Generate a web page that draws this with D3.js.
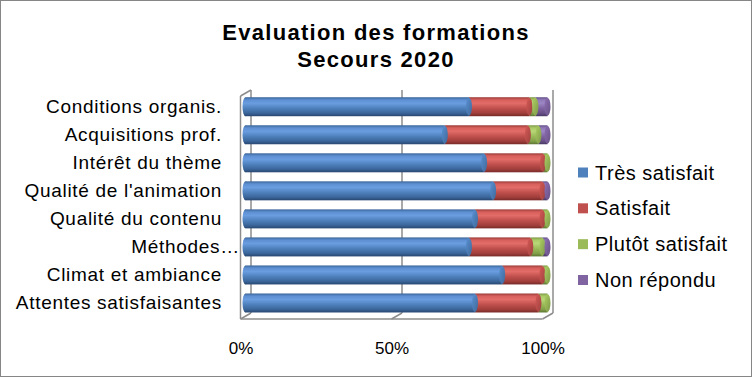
<!DOCTYPE html>
<html>
<head>
<meta charset="utf-8">
<script src="https://cdn.jsdelivr.net/npm/d3@7"></script>
<style>
  html, body { margin: 0; padding: 0; background: #fff; }
  svg { display: block; font-family: "Liberation Sans", Arial, sans-serif; }
</style>
</head>
<body>
<svg id="chart" width="752" height="377"></svg>
<script>
// ---- Data ----
const titleLines = ["Evaluation des formations", "Secours 2020"];
const categories = ["Conditions organis.", "Acquisitions prof.", "Intérêt du thème", "Qualité de l'animation",
                    "Qualité du contenu", "Méthodes…", "Climat et ambiance", "Attentes satisfaisantes"];
const seriesNames = ["Très satisfait", "Satisfait", "Plutôt satisfait", "Non répondu"];
const tresSatisfait   = [74, 66, 79, 82, 76, 74, 85, 76];
const satisfait       = [20, 27.5, 19.5, 16.3, 22.3, 20.3, 13.3, 21];
const plutotSatisfait = [2, 3.5, 1.5, 0, 1.7, 4, 1.7, 3];
const nonRepondu      = [4, 3, 0, 1.7, 0, 1.7, 0, 0];
const tickValues = [0, 50, 100];

// ---- Setup ----
const W = 752, H = 377;
const svg = d3.select("#chart");
const seriesValues = [tresSatisfait, satisfait, plutotSatisfait, nonRepondu];
const baseColors = ["#4F81BD", "#C0504D", "#9BBB59", "#8064A2"];
const gradStops = [
  ["#3b6699", "#5d8fd2", "#6a9de0", "#4f81bd", "#3a6599", "#284670"],
  ["#9a3c39", "#d8605c", "#e26c68", "#c0504d", "#a03e3b", "#772a28"],
  ["#7c9945", "#abcb67", "#b8d677", "#9bbb59", "#819f48", "#5e7632"],
  ["#63508a", "#917ab8", "#9d86c4", "#8064a2", "#684f87", "#483863"]
];
const stopOffsets = ["0%", "14%", "32%", "58%", "84%", "100%"];
const defs = svg.append("defs");
gradStops.forEach((stops, i) => {
  const g = defs.append("linearGradient").attr("id", "g" + i)
    .attr("x1", 0).attr("y1", 0).attr("x2", 0).attr("y2", 1);
  stops.forEach((c, j) => g.append("stop").attr("offset", stopOffsets[j]).attr("stop-color", c));
  const gc = defs.append("linearGradient").attr("id", "c" + i)
    .attr("x1", 0).attr("y1", 0).attr("x2", 1).attr("y2", 1);
  gc.append("stop").attr("offset", "0%").attr("stop-color", d3.color(baseColors[i]).brighter(0.3));
  gc.append("stop").attr("offset", "100%").attr("stop-color", d3.color(baseColors[i]).darker(0.6));
});

// outer border
svg.append("rect").attr("x", 0.5).attr("y", 0.5).attr("width", W - 1).attr("height", H - 1)
  .attr("fill", "#fff").attr("stroke", "#868686").attr("stroke-width", 1);

// title
svg.append("text").attr("x", 376).attr("y", 40)
  .attr("text-anchor", "middle").attr("font-size", 22).attr("font-weight", "bold")
  .attr("letter-spacing", 1.3)
  .selectAll("tspan").data(titleLines).join("tspan")
  .attr("x", 376).attr("dy", (d, i) => i === 0 ? 0 : 27).text(d => d);

// scales
const xFront = d3.scaleLinear().domain([0, 100]).range([240.5, 542.5]);
const xBack  = d3.scaleLinear().domain([0, 100]).range([251, 553]);
const xBar   = d3.scaleLinear().domain([0, 100]).range([245.5, 547.5]);
const y = d3.scaleBand().domain(categories).range([92.7, 317]);
const barH = 19;
const floorBack = 313, floorFront = 319, wallTop = 90, depthDy = 6;

// walls & gridlines
const grid = svg.append("g").attr("stroke", "#8c8c8c").attr("stroke-width", 1.5).attr("fill", "none");
grid.selectAll("line.v").data(tickValues).join("line").attr("class", "v")
  .attr("x1", d => xBack(d)).attr("x2", d => xBack(d)).attr("y1", wallTop).attr("y2", floorBack);
grid.selectAll("line.f").data(tickValues).join("line").attr("class", "f")
  .attr("x1", d => xBack(d)).attr("x2", d => xFront(d)).attr("y1", floorBack).attr("y2", floorFront);
grid.append("line").attr("x1", xFront(0)).attr("x2", xFront(100)).attr("y1", floorFront).attr("y2", floorFront);
grid.append("line").attr("x1", xFront(0)).attr("x2", xFront(0)).attr("y1", wallTop + depthDy).attr("y2", floorFront);
grid.append("line").attr("x1", xFront(0)).attr("x2", xBack(0)).attr("y1", wallTop + depthDy).attr("y2", wallTop);

// stacked data
const stack = categories.map((c, i) => {
  let acc = 0;
  return seriesValues.map((vals, s) => {
    const v = vals[i];
    const seg = { cat: c, s, x0: acc, x1: acc + v, v };
    acc += v;
    return seg;
  }).filter(d => d.v > 0);
});

const bars = svg.append("g");
const rx = 3;
stack.forEach(segs => {
  const cy = y(segs[0].cat) + y.bandwidth() / 2;
  const g = bars.append("g");
  // left cap
  g.append("ellipse").attr("cx", xBar(0)).attr("cy", cy).attr("rx", rx).attr("ry", barH / 2)
    .attr("fill", "url(#g0)");
  g.selectAll("rect").data(segs).join("rect")
    .attr("x", d => xBar(d.x0)).attr("width", d => xBar(d.x1) - xBar(d.x0))
    .attr("y", cy - barH / 2).attr("height", barH)
    .attr("fill", d => `url(#g${d.s})`);
  g.selectAll("ellipse.cap").data(segs).join("ellipse").attr("class", "cap")
    .attr("cx", d => xBar(d.x1)).attr("cy", cy).attr("rx", rx).attr("ry", barH / 2 - 0.5)
    .attr("fill", d => `url(#c${d.s})`);
});

// category axis
const yAxis = svg.append("g").attr("transform", "translate(222,0)")
  .call(d3.axisLeft(y).tickSize(0).tickPadding(0));
yAxis.select(".domain").remove();
yAxis.selectAll("text").attr("font-family", "Liberation Sans, Arial, sans-serif")
  .attr("font-size", 19).attr("letter-spacing", 0.7).attr("fill", "#000")
  .attr("dx", d => d.endsWith("…") ? 18 : 0);

// value axis
const xAxis = svg.append("g").attr("transform", `translate(0,${floorFront})`)
  .call(d3.axisBottom(xFront).tickValues(tickValues).tickFormat(d => d + "%").tickSize(0).tickPadding(0));
xAxis.select(".domain").remove();
xAxis.selectAll("text").attr("font-family", "Liberation Sans, Arial, sans-serif")
  .attr("font-size", 17).attr("fill", "#000").attr("y", 35).attr("dy", 0);

// legend
const leg = svg.append("g").attr("transform", "translate(578,0)");
const legY = d3.scalePoint().domain(seriesNames).range([172.5, 280]);
const items = leg.selectAll("g").data(seriesNames).join("g")
  .attr("transform", d => `translate(0,${legY(d)})`);
items.append("rect").attr("x", 0).attr("y", -5).attr("width", 10).attr("height", 10)
  .attr("fill", (d, i) => baseColors[i]);
items.append("text").attr("x", 17).attr("y", 0).attr("dy", "0.35em")
  .attr("font-size", 20).attr("letter-spacing", 0.5).text(d => d);
</script>
</body>
</html>
